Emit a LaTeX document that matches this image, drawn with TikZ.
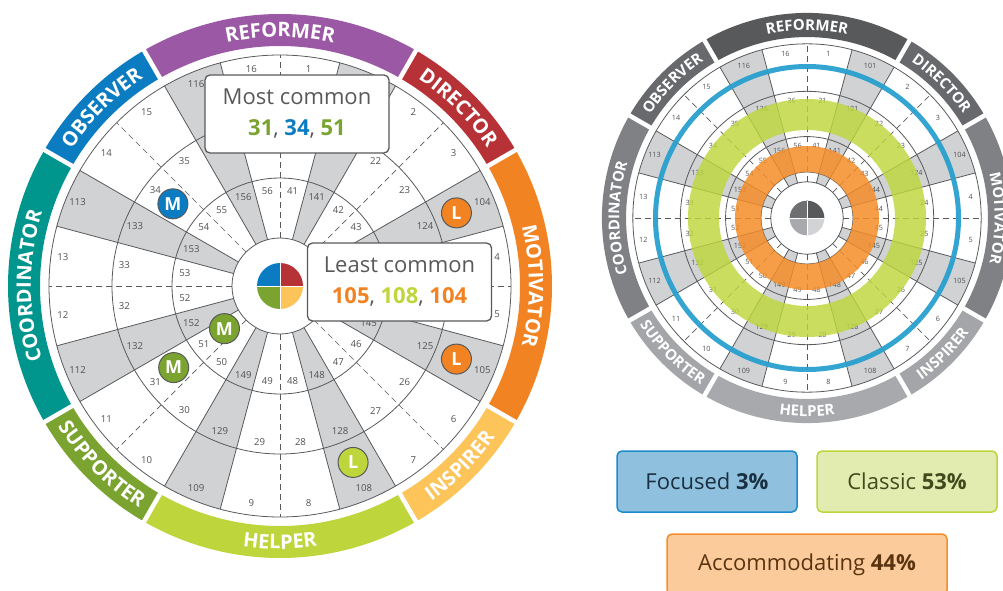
\documentclass[tikz,border=0pt]{standalone}
\usepackage{fontspec}
\setmainfont{Open Sans}
\usetikzlibrary{decorations.text}

\definecolor{linegray}{RGB}{88,89,91}
\definecolor{sectorgray}{RGB}{209,210,212}
\definecolor{numgray}{RGB}{80,81,83}
\definecolor{reformer}{RGB}{155,89,165}
\definecolor{director}{RGB}{183,50,55}
\definecolor{motivator}{RGB}{242,131,35}
\definecolor{inspirer}{RGB}{253,196,90}
\definecolor{helper}{RGB}{190,214,59}
\definecolor{supporter}{RGB}{122,163,48}
\definecolor{coordinator}{RGB}{0,150,141}
\definecolor{observer}{RGB}{12,124,194}
\colorlet{Lreformer}{reformer}
\colorlet{Ldirector}{director}
\colorlet{Lmotivator}{motivator}
\colorlet{Linspirer}{inspirer}
\colorlet{Lhelper}{helper}
\colorlet{Lsupporter}{supporter}
\colorlet{Lcoordinator}{coordinator}
\colorlet{Lobserver}{observer}
\colorlet{LpieA}{director}
\colorlet{LpieB}{observer}
\colorlet{LpieC}{supporter}
\colorlet{LpieD}{inspirer}
\definecolor{Rreformer}{RGB}{88,89,91}
\definecolor{Rdirector}{RGB}{104,105,108}
\definecolor{Robserver}{RGB}{104,105,108}
\definecolor{Rmotivator}{RGB}{128,129,132}
\definecolor{Rcoordinator}{RGB}{128,129,132}
\definecolor{Rinspirer}{RGB}{163,165,168}
\definecolor{Rsupporter}{RGB}{163,165,168}
\definecolor{Rhelper}{RGB}{167,169,172}
\definecolor{RpieA}{RGB}{88,89,91}
\definecolor{RpieB}{RGB}{110,111,113}
\definecolor{RpieC}{RGB}{167,169,172}
\definecolor{RpieD}{RGB}{209,211,212}
\definecolor{blueband}{RGB}{41,160,206}
\definecolor{orangeband}{RGB}{244,140,40}
\definecolor{focusedfill}{RGB}{143,193,223}
\definecolor{focusedline}{RGB}{27,139,201}
\definecolor{focusedtext}{RGB}{26,48,64}
\definecolor{classicfill}{RGB}{226,235,176}
\definecolor{classicline}{RGB}{189,213,59}
\definecolor{classictext}{RGB}{64,74,28}
\definecolor{accomfill}{RGB}{251,203,155}
\definecolor{accomline}{RGB}{243,142,44}
\definecolor{accomtext}{RGB}{90,52,17}

\newcommand{\bandfont}[1]{\color{white}\fontsize{#1}{#1}\selectfont\bfseries}

\tikzset{
    ringline/.style={draw=linegray, line width=0.8pt},
    axisline/.style={draw=linegray, line width=0.7pt, dash pattern=on 6pt off 4pt},
    num/.style={text=numgray, font=\fontsize{9.6}{9.6}\selectfont, inner sep=0pt},
    marker/.style={circle, draw=linegray, line width=1pt, minimum size=30pt, inner sep=0pt,
        text=white, font=\fontsize{18}{18}\selectfont\bfseries},
    callout/.style={draw=linegray, line width=1.3pt, fill=white, rounded corners=5pt,
        minimum width=184pt, minimum height=78pt, align=center, text=linegray,
        font=\fontsize{22}{31}\selectfont},
    legendbox/.style={line width=1.5pt, rounded corners=5pt, minimum width=180pt,
        minimum height=61pt, font=\fontsize{22}{22}\selectfont}
}

\newcommand{\drawwheel}[2]{%
    \foreach \k in {0,...,7} {
        \fill[sectorgray] ({60-45*\k}:48) arc[start angle=60-45*\k, end angle=75-45*\k, radius=48]
            -- ({75-45*\k}:231) arc[start angle=75-45*\k, end angle=60-45*\k, radius=231] -- cycle;
        \draw[ringline] ({60-45*\k}:48) -- ({60-45*\k}:231) ({75-45*\k}:48) -- ({75-45*\k}:231);
        \draw[axisline] ({90-45*\k}:48) -- ({90-45*\k}:231);
    }
    \foreach \rad in {48,108,168,231}
        \draw[ringline] (0,0) circle[radius=\rad];
    \foreach \k in {0,...,7}
        \foreach \o/\rad in {0/219,20/157,40/96} {
            \pgfmathtruncatemacro\na{2*\k+1+\o}
            \pgfmathtruncatemacro\nb{2*\k+2+\o}
            \pgfmathtruncatemacro\ng{101+2*\k+mod(\k,2)+\o}
            \node[num] (#1\na) at ({82.5-45*\k}:\rad) {\na};
            \node[num] (#1\ng) at ({67.5-45*\k}:\rad) {\ng};
            \node[num] (#1\nb) at ({52.5-45*\k}:\rad) {\nb};
        }
    \foreach \t/\c/\a/\b/\rb in {REFORMER/reformer/120/60/249, DIRECTOR/director/60/30/249,
            MOTIVATOR/motivator/30/-30/249, INSPIRER/inspirer/-60/-30/263,
            HELPER/helper/-120/-60/263, SUPPORTER/supporter/-150/-120/263,
            COORDINATOR/coordinator/210/150/249, OBSERVER/observer/150/120/249} {
        \fill[fill=#1\c] (\a:240) arc[start angle=\a, end angle=\b, radius=240]
            -- (\b:272) arc[start angle=\b, end angle=\a, radius=272] -- cycle;
        \path[decorate, decoration={text along path, text/.expanded={|\noexpand\bandfont{#2}|\t},
            text align=center}] (\a:\rb) arc[start angle=\a, end angle=\b, radius=\rb];
    }
    \foreach \a in {120,60,30,-30,-60,-120,-150,150}
        \draw[white, line width=4.5pt] (\a:236) -- (\a:276);
    \foreach \c [count=\i from 0] in {pieA,pieB,pieC,pieD}
        \fill[fill=#1\c] (0,0) -- ({90*\i}:23) arc[start angle=90*\i, end angle=90*\i+90, radius=23] -- cycle;
    \draw[white, line width=1pt] (-23,0) -- (23,0) (0,-23) -- (0,23);
}

\begin{document}
\begin{tikzpicture}[x=1pt, y=1pt]
    \useasboundingbox (0,0) rectangle (1003,590);

    \begin{scope}[shift={(280,304)}]
        \drawwheel{L}{20}
        \node[marker, fill=observer] (m34) at (142.5:135) {M};
        \node[marker, fill=supporter] (m31) at (217.5:134) {M};
        \node[marker, fill=supporter] (m51) at (217.5:70) {M};
        \node[marker, fill=motivator] (l104) at (22.5:191) {L};
        \node[marker, fill=motivator] (l105) at (-22.5:191) {L};
        \node[marker, fill=helper] (l108) at (-67.5:191) {L};
    \end{scope}

    \begin{scope}[shift={(807,372)}, scale=0.754, transform shape]
        \drawwheel{R}{15}
        \draw[ringline] (0,0) circle[radius=61];
    \end{scope}
    \begin{scope}[shift={(807,372)}]
        \fill[orangeband, opacity=0.85, even odd rule] (0,0) circle[radius=72] circle[radius=46];
        \fill[helper, opacity=0.82, even odd rule] (0,0) circle[radius=119] circle[radius=88];
        \fill[blueband, opacity=0.95, even odd rule] (0,0) circle[radius=154] circle[radius=149];
    \end{scope}

    \node[callout] (most) at (297,476)
        {Most common\\{\bfseries\color{supporter}31}, {\bfseries\color{observer}34}, {\bfseries\color{supporter}51}};
    \node[callout] (least) at (399.5,308)
        {Least common\\{\bfseries\color{motivator}105}, {\bfseries\color{helper}108}, {\bfseries\color{motivator}104}};

    \node[legendbox, draw=focusedline, fill=focusedfill, text=focusedtext] (focused) at (707,108.5) {Focused \textbf{3\%}};
    \node[legendbox, draw=classicline, fill=classicfill, text=classictext] (classic) at (907,108.5) {Classic \textbf{53\%}};
    \node[legendbox, draw=accomline, fill=accomfill, text=accomtext, minimum width=280pt] (accom) at (807,25.5) {Accommodating \textbf{44\%}};
\end{tikzpicture}
\end{document}
